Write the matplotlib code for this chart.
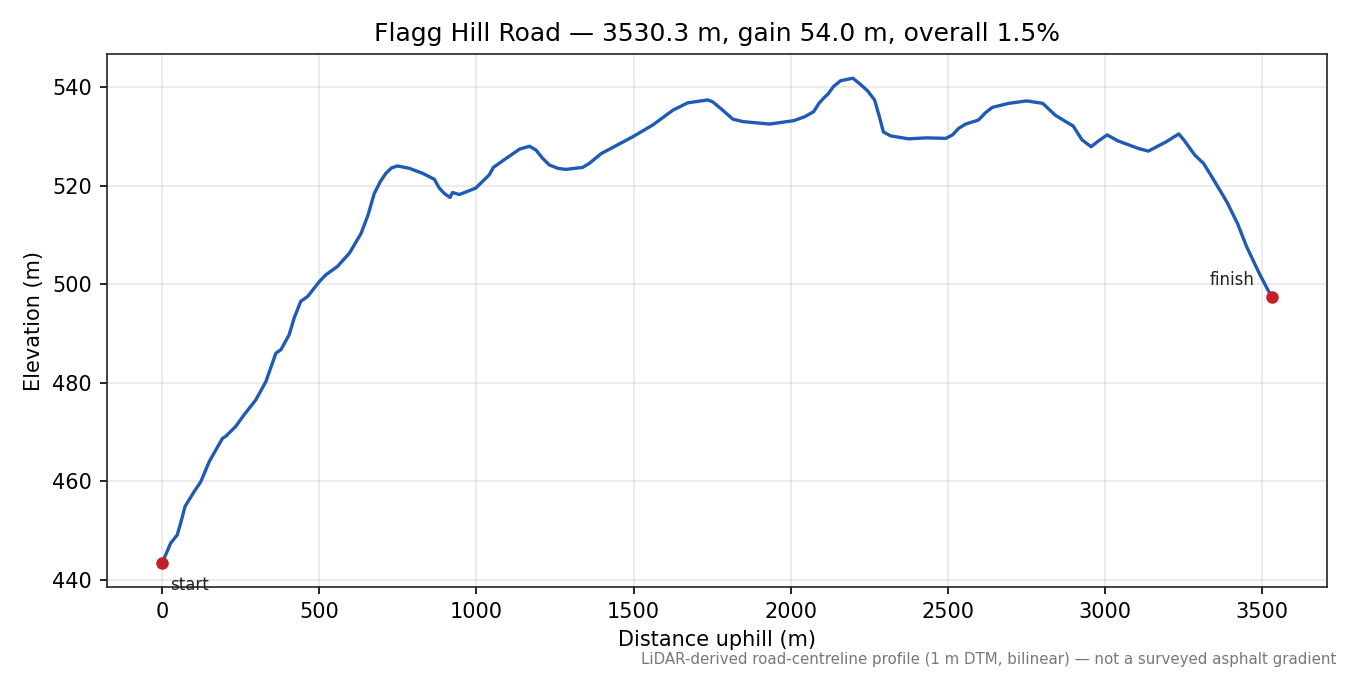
import numpy as np
import matplotlib
matplotlib.use("Agg")
import matplotlib.pyplot as plt

# distance along the road (m) and elevation (m)
dist = [0, 27, 48, 59, 73, 102, 123, 150, 192, 202, 234, 261, 298, 330, 351, 362,
        378, 404, 420, 441, 463, 500, 521, 558, 596, 633, 655, 675, 695, 712, 730,
        749, 787, 829, 866, 882, 898, 916, 924, 946, 998, 1041, 1054, 1094, 1137,
        1169, 1190, 1210, 1232, 1260, 1285, 1338, 1359, 1397, 1497, 1561, 1625,
        1672, 1736, 1752, 1784, 1816, 1848, 1933, 2011, 2045, 2073, 2090, 2107,
        2119, 2136, 2159, 2198, 2221, 2244, 2267, 2284, 2295, 2318, 2375, 2432,
        2494, 2515, 2534, 2557, 2597, 2620, 2642, 2694, 2751, 2802, 2842, 2870,
        2899, 2927, 2956, 2978, 3007, 3041, 3104, 3138, 3195, 3235, 3252, 3286,
        3314, 3343, 3388, 3422, 3451, 3491, 3530.3]
elev = [443.4, 447.4, 449.1, 451.5, 454.9, 457.9, 459.9, 464.0, 468.7, 469.1, 471.1,
        473.5, 476.5, 480.2, 484.0, 486.0, 486.7, 489.7, 493.1, 496.5, 497.5, 500.5,
        501.9, 503.6, 506.3, 510.3, 514.0, 518.4, 520.9, 522.5, 523.6, 524.0, 523.5,
        522.5, 521.3, 519.5, 518.4, 517.6, 518.6, 518.2, 519.5, 522.2, 523.7, 525.5,
        527.4, 528.0, 527.2, 525.6, 524.2, 523.5, 523.3, 523.7, 524.5, 526.5, 529.9,
        532.3, 535.3, 536.8, 537.4, 537.0, 535.3, 533.5, 533.0, 532.5, 533.2, 534.0,
        535.0, 536.7, 537.9, 538.6, 540.1, 541.3, 541.8, 540.6, 539.3, 537.4, 533.6,
        530.9, 530.1, 529.5, 529.7, 529.6, 530.3, 531.6, 532.5, 533.3, 534.8, 535.9,
        536.7, 537.2, 536.7, 534.3, 533.2, 532.1, 529.3, 527.9, 529.0, 530.3, 529.1,
        527.6, 527.0, 528.9, 530.5, 529.2, 526.2, 524.5, 521.5, 516.7, 512.3, 507.6,
        502.2, 497.4]

dist = np.array(dist)
elev = np.array(elev)

total = dist[-1]
gain = elev[-1] - elev[0]
title = f"Flagg Hill Road \u2014 {total:.1f} m, gain {gain:.1f} m, overall {100*gain/total:.1f}%"

fig, ax = plt.subplots(figsize=(9, 4.5), dpi=150)
fig.subplots_adjust(left=0.079, right=0.983, top=0.92, bottom=0.13)

ax.plot(dist, elev, color="#1f5bb4", lw=1.6)
ax.plot([dist[0], dist[-1]], [elev[0], elev[-1]], "o", color="#c41e2a", ms=5, zorder=3)
ax.annotate("start", (dist[0], elev[0]), xytext=(4, -6), textcoords="offset points",
            ha="left", va="top", fontsize=8, color="#222222")
ax.annotate("finish", (dist[-1], elev[-1]), xytext=(-8, 4), textcoords="offset points",
            ha="right", va="bottom", fontsize=8, color="#222222")

ax.set_title(title, fontsize=12)
ax.set_xlabel("Distance uphill (m)")
ax.set_ylabel("Elevation (m)")
ax.grid(True, alpha=0.3)
for s in ax.spines.values():
    s.set_color("#222222")

fig.text(0.99, 0.012, "LiDAR-derived road-centreline profile (1 m DTM, bilinear) \u2014 not a surveyed asphalt gradient",
         ha="right", va="bottom", fontsize=7.2, color="#777777")

fig.savefig("out.png", dpi=150)
